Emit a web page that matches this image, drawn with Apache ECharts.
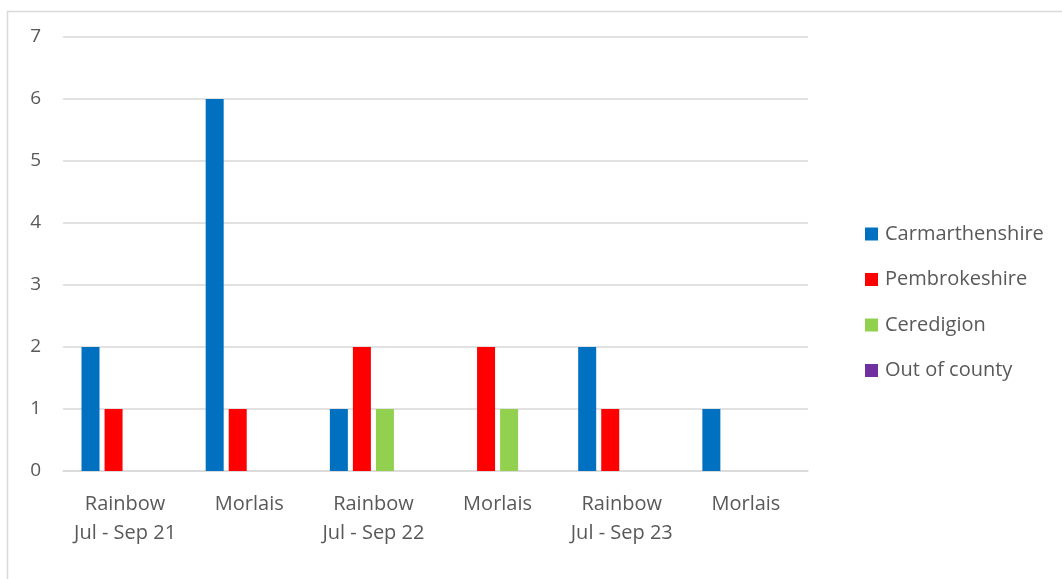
<!DOCTYPE html>
<html>
<head>
<meta charset="utf-8">
<script src="https://cdn.jsdelivr.net/npm/echarts@6/dist/echarts.min.js"></script>
<style>html,body{margin:0;padding:0;background:#fff;}#c{width:1062px;height:579px;}</style>
</head>
<body>
<div id="c"></div>
<script>
const categories = ['Rainbow\nJul - Sep 21', 'Morlais', 'Rainbow\nJul - Sep 22', 'Morlais', 'Rainbow\nJul - Sep 23', 'Morlais'];
const seriesNames = ['Carmarthenshire', 'Pembrokeshire', 'Ceredigion', 'Out of county'];
const carmarthenshire = [2, 6, 1, 0, 2, 1];
const pembrokeshire = [1, 1, 2, 2, 1, 0];
const ceredigion = [0, 0, 1, 1, 0, 0];
const outOfCounty = [0, 0, 0, 0, 0, 0];
const yTicks = [0, 1, 2, 3, 4, 5, 6, 7];
const colors = ['#0070C0', '#FF0000', '#92D050', '#7030A0'];

const font = '"Open Sans", "Noto Sans", sans-serif';
const chart = echarts.init(document.getElementById('c'), null, {renderer: 'canvas'});
const data = [carmarthenshire, pembrokeshire, ceredigion, outOfCounty];
chart.setOption({
  animation: false,
  graphic: [{
    type: 'rect', shape: {x: 7.5, y: 11.5, width: 1100, height: 600},
    style: {fill: 'none', stroke: '#d9d9d9', lineWidth: 1.5}, silent: true, z: -10
  }],
  grid: {left: 63, right: 254, top: 37, bottom: 108, containLabel: false},
  legend: {
    orient: 'vertical', left: 860, top: 219, itemGap: 25.5,
    itemWidth: 13, itemHeight: 13, icon: 'rect',
    textStyle: {fontFamily: font, fontSize: 20, lineHeight: 20, color: '#595959', padding: [0, 0, 0, 2]},
    data: seriesNames
  },
  xAxis: {
    type: 'category', data: categories,
    axisLine: {lineStyle: {color: '#d9d9d9', width: 1.5}},
    axisTick: {show: false},
    axisLabel: {fontFamily: font, fontSize: 20, color: '#595959', margin: 19, lineHeight: 29, interval: 0}
  },
  yAxis: {
    type: 'value', min: 0, max: 7, interval: 1,
    axisLine: {show: false}, axisTick: {show: false},
    splitLine: {lineStyle: {color: '#d9d9d9', width: 1.5}},
    axisLabel: {fontFamily: font, fontSize: 19, color: '#595959', margin: 22,
      formatter: v => yTicks.includes(v) ? String(v) : ''}
  },
  series: seriesNames.map((n, i) => ({
    name: n, type: 'bar', data: data[i], barWidth: 18, barGap: '28%',
    itemStyle: {color: colors[i]}
  }))
});
</script>
</body>
</html>
